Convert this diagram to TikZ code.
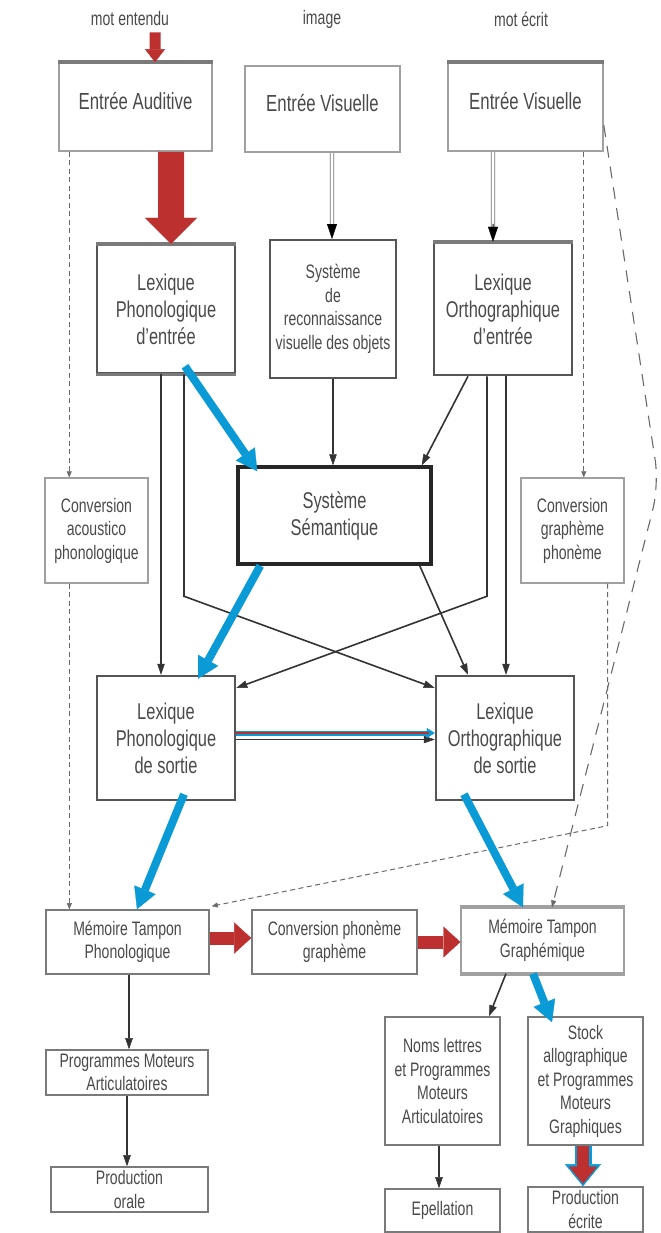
\documentclass[tikz,border=0pt]{standalone}
\usepackage{fontspec}
\setmainfont{Liberation Sans}[FakeStretch=0.72]
\usetikzlibrary{arrows.meta,calc}

\definecolor{txt}{HTML}{4A4A4A}
\definecolor{frame}{HTML}{555555}
\definecolor{midframe}{HTML}{7A7A7A}
\definecolor{lightframe}{HTML}{A0A0A0}
\definecolor{redarrow}{HTML}{BC3030}
\definecolor{bluearrow}{HTML}{0A9BD6}
\definecolor{dashgray}{HTML}{6A6A6A}

\newcommand\txtS{\fontsize{19.5bp}{23.5bp}\selectfont}
\newcommand\txtL{\fontsize{22.8bp}{27bp}\selectfont}
\newcommand\txtE{\fontsize{23.3bp}{26bp}\selectfont}

\tikzset{
  box/.style={draw=frame, line width=2bp, fill=white, align=center,
    inner sep=0pt, text=txt, font=\txtS},
  bigbox/.style={box, line width=2.5bp, font=\txtL},
  entrybox/.style={box, draw=lightframe, line width=1.6bp, font=\txtE, text depth=12bp},
  convbox/.style={box, draw=lightframe, line width=1.3bp},
  lowbox/.style={box, draw=midframe, line width=1.6bp},
  semantic/.style={box, draw=black!85, line width=3.5bp, font=\txtL},
  lbl/.style={text=txt, font=\txtS, inner sep=1bp},
  band/.style={draw=midframe, line width=3.5bp},
  lightband/.style={draw=lightframe, line width=4bp},
  flow/.style={draw=black!80, line width=1.6bp,
    -{Triangle[width=7.5bp,length=11bp,line width=0.5bp]}},
  dashflow/.style={draw=dashgray, line width=1bp, dash pattern=on 5bp off 3.5bp,
    -{Triangle[width=5bp,length=6bp,line width=0.4bp]}},
  longdash/.style={draw=dashgray, line width=1.1bp, dash pattern=on 12bp off 9bp,
    rounded corners=25bp, -{Triangle[width=5bp,length=7bp,line width=0.4bp]}},
  hollow/.style={draw=black!55, line width=0.9bp, double=white, double distance=2.6bp,
    shorten >=13bp},
  hollowtip/.style={draw=black, line width=1bp, shorten <=72bp,
    -{Triangle[width=10bp,length=15bp,line width=0.4bp]}},
  bluearr/.style={draw=bluearrow, line width=8bp,
    -{Triangle[width=23bp,length=21bp,line width=0.3bp]}},
  redsmall/.style={draw=redarrow, line width=11bp,
    -{Triangle[width=20bp,length=13bp,line width=0.3bp]}},
  redbig/.style={draw=redarrow, line width=26bp,
    -{Triangle[width=52bp,length=26bp,line width=0.3bp]}},
  redmid/.style={draw=redarrow, line width=13bp,
    -{Triangle[width=31bp,length=17bp,line width=0.3bp]}},
  redrim/.style={draw=bluearrow, line width=17bp,
    -{Triangle[width=36bp,length=22bp,line width=0.3bp]}},
  redcore/.style={draw=redarrow, line width=12bp, shorten >=2.5bp,
    -{Triangle[width=28bp,length=17bp,line width=0.3bp]}},
  duorim/.style={draw=bluearrow, line width=5bp,
    -{Triangle[width=10bp,length=8bp,line width=0.3bp]}},
  duocore/.style={draw=redarrow, line width=2.2bp, shorten >=6bp},
}

\begin{document}
\begin{tikzpicture}[x=1bp, y=-1bp]
\fill[white] (0,0) rectangle (661,1233);
\useasboundingbox (0,0) rectangle (661,1233);

% input labels
\node[lbl] (lh) at (130,19) {mot entendu};
\node[lbl] (li) at (322,19) {image};
\node[lbl] (lw) at (521,19) {mot écrit};

% input stages
\node[entrybox, minimum width=153bp, minimum height=88bp] (ea) at (135.5,107) {Entrée Auditive};
\node[entrybox, minimum width=155bp, minimum height=86bp] (ev1) at (322.5,109) {Entrée Visuelle};
\node[entrybox, minimum width=155bp, minimum height=88bp] (ev2) at (525.5,107) {Entrée Visuelle};

% input lexicons and object recognition
\node[bigbox, minimum width=138bp, minimum height=128bp] (lpe) at (166,309) {Lexique\\Phonologique\\d'entrée};
\node[box, minimum width=126bp, minimum height=138bp] (sro) at (333,309) {Système\\de\\reconnaissance\\visuelle des objets};
\node[bigbox, minimum width=138bp, minimum height=132bp] (loe) at (503,309) {Lexique\\Orthographique\\d'entrée};

% semantic system and sublexical conversions
\node[semantic, minimum width=193bp, minimum height=97bp] (ss) at (334.5,515.5) {Système\\Sémantique};
\node[convbox, minimum width=103bp, minimum height=105bp] (cap) at (96.5,530.5) {Conversion\\acoustico\\phonologique};
\node[convbox, minimum width=103bp, minimum height=105bp] (cgp) at (572.5,530.5) {Conversion\\graphème\\phonème};

% output lexicons
\node[bigbox, minimum width=138bp, minimum height=124bp] (lps) at (166,738) {Lexique\\Phonologique\\de sortie};
\node[bigbox, minimum width=138bp, minimum height=124bp] (los) at (505,738) {Lexique\\Orthographique\\de sortie};

% buffers
\node[lowbox, minimum width=163bp, minimum height=64bp] (mtp) at (127.5,942) {Mémoire Tampon\\Phonologique};
\node[lowbox, minimum width=165bp, minimum height=64bp] (cpg) at (334.5,942) {Conversion phonème\\graphème};
\node[convbox, minimum width=163bp, minimum height=65bp] (mtg) at (542.5,940.5) {Mémoire Tampon\\Graphémique};

% output programs
\node[lowbox, minimum width=162bp, minimum height=45bp] (pma) at (127,1072.5) {Programmes Moteurs\\Articulatoires};
\node[lowbox, minimum width=157bp, minimum height=45bp] (po) at (129.5,1189.5) {Production\\orale};
\node[lowbox, minimum width=115bp, minimum height=128bp] (nl) at (442.5,1081) {Noms lettres\\et Programmes\\Moteurs\\Articulatoires};
\node[lowbox, minimum width=115bp, minimum height=128bp] (sa) at (585.5,1081) {Stock\\allographique\\et Programmes\\Moteurs\\Graphiques};
\node[lowbox, minimum width=115bp, minimum height=43bp] (ep) at (442.5,1210.5) {Epellation};
\node[lowbox, minimum width=115bp, minimum height=45bp] (pe) at (585.5,1209.5) {Production\\écrite};

% heavier edges on some frames
\draw[band] (ea.north west) -- (ea.north east);
\draw[band] (ev2.north west) -- (ev2.north east);
\draw[band] (lpe.north west) -- (lpe.north east);
\draw[band] (lpe.south west) -- (lpe.south east);
\draw[band] (loe.north west) -- (loe.north east);
\draw[lightband] (mtg.north west) -- (mtg.north east);
\draw[lightband] (mtg.south west) -- (mtg.south east);

% dashed sublexical routes
\draw[dashflow] ([xshift=11bp]ea.south west) -- ([xshift=11bp]ea.south west |- cap.north);
\draw[dashflow] ([xshift=25bp]cap.south west) -- ([xshift=25bp]cap.south west |- mtp.north);
\draw[dashflow] ([xshift=-20bp]ev2.south east) -- ([xshift=-20bp]ev2.south east |- cgp.north);
\draw[dashflow] ([xshift=-17bp]cgp.south east) -- ++(0,242) -- ([xshift=2bp,yshift=3bp]mtp.north east);
\coordinate (bend) at (659,485);
\draw[longdash] ([yshift=-18bp]ev2.east) -- (bend) -- ([xshift=9.5bp]mtg.north);

% black lexical routes
\draw[flow] ([xshift=-5bp]lpe.south) -- ([xshift=-5bp]lps.north);
\draw[flow] ([xshift=18bp]lpe.south) -- ++(0,222) -- ([yshift=50bp]los.west);
\draw[flow] (sro.south) -- (sro.south |- ss.north);
\draw[flow] ([xshift=-35bp]loe.south) -- ([xshift=-11bp]ss.north east);
\draw[flow] ([xshift=-16bp]loe.south) -- ++(0,220) -- ([yshift=50bp]lps.east);
\draw[flow] ([xshift=3bp]loe.south) -- ([xshift=3bp]loe.south |- los.north);
\draw[flow] ([xshift=-13bp]ss.south east) -- ([xshift=-37bp]los.north);
\draw[flow] ([yshift=-1.5bp]lps.east) -- ([yshift=-1.5bp]los.west);
\draw[flow] ([xshift=1.5bp]mtp.south) -- ([xshift=1.5bp]mtp.south |- pma.north);
\draw[flow] (pma.south) -- (pma.south |- po.north);
\draw[flow] ([xshift=-36.5bp]mtg.south) -- ([xshift=46.5bp]nl.north);
\draw[flow] ([xshift=-3.5bp]nl.south) -- ([xshift=-3.5bp]ep.north);

% visual input routes
\draw[hollow] ([xshift=9.5bp]ev1.south) -- ([xshift=-1bp]sro.north);
\draw[hollowtip] ([xshift=9.5bp]ev1.south) -- ([xshift=-1bp]sro.north);
\draw[hollow] ([xshift=-32.5bp]ev2.south) -- ([xshift=-10bp]loe.north);
\draw[hollowtip] ([xshift=-32.5bp]ev2.south) -- ([xshift=-10bp]loe.north);

% phonological to orthographic output link
\draw[duorim] ([yshift=5bp]lps.east) -- ([yshift=5bp]los.west);
\draw[duocore] ([yshift=5bp]lps.east) -- ([yshift=5bp]los.west);

% highlighted routes
\draw[bluearr] ([xshift=19bp,yshift=8bp]lpe.south) -- ([xshift=21bp,yshift=-6bp]ss.north west);
\draw[bluearr] ([xshift=24bp]ss.south west) -- ([xshift=32bp,yshift=-4bp]lps.north);
\draw[bluearr] ([xshift=18bp,yshift=7bp]lps.south) -- ([xshift=9.5bp]mtp.north);
\draw[bluearr] ([xshift=-41bp,yshift=7bp]los.south) -- ([xshift=-19.5bp]mtg.north);
\draw[bluearr] ([xshift=-9.5bp]mtg.south) -- ([xshift=-33.5bp,yshift=-6bp]sa.north);

\draw[redsmall] ([xshift=25bp,yshift=-5bp]lh.south) -- ([xshift=19.5bp]ea.north);
\draw[redbig] ([xshift=35.5bp]ea.south) -- ([xshift=5bp]lpe.north);
\draw[redmid] ([yshift=4bp]mtp.east) -- ([yshift=4bp]cpg.west);
\draw[redmid] (cpg.east) -- (cpg.east -| mtg.west);
\draw[redrim] ([xshift=-2.5bp]sa.south) -- ([xshift=-2.5bp]pe.north);
\draw[redcore] ([xshift=-2.5bp]sa.south) -- ([xshift=-2.5bp]pe.north);
\end{tikzpicture}
\end{document}
